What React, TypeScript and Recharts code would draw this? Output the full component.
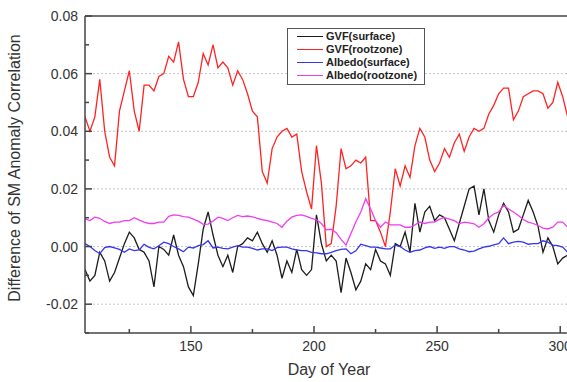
import { LineChart, Line, XAxis, YAxis, ReferenceLine, Legend } from "recharts";

// Day of year (every second day)
const DAYS = [
  107, 109, 111, 113, 115, 117, 119, 121, 123, 125,
  127, 129, 131, 133, 135, 137, 139, 141, 143, 145,
  147, 149, 151, 153, 155, 157, 159, 161, 163, 165,
  167, 169, 171, 173, 175, 177, 179, 181, 183, 185,
  187, 189, 191, 193, 195, 197, 199, 201, 203, 205,
  207, 209, 211, 213, 215, 217, 219, 221, 223, 225,
  227, 229, 231, 233, 235, 237, 239, 241, 243, 245,
  247, 249, 251, 253, 255, 257, 259, 261, 263, 265,
  267, 269, 271, 273, 275, 277, 279, 281, 283, 285,
  287, 289, 291, 293, 295, 297, 299, 301, 303,
];

const GVF_SURFACE = [
  -0.008, -0.012, -0.010, -0.002, -0.005, -0.012, -0.009, -0.004, 0.001, 0.005,
  0.003, -0.001, -0.002, -0.005, -0.014, 0.000, -0.001, -0.003, 0.004, -0.003,
  -0.007, -0.014, -0.017, -0.006, 0.006, 0.012, 0.004, -0.003, -0.007, -0.003,
  -0.009, 0.000, 0.001, 0.003, 0.002, 0.005, 0.001, -0.002, 0.002, -0.003,
  -0.011, -0.005, -0.009, -0.001, -0.008, -0.010, -0.008, 0.011, 0.001, -0.005,
  -0.003, -0.005, -0.016, -0.004, -0.009, -0.015, -0.012, -0.006, -0.008, -0.001,
  -0.005, -0.006, -0.010, 0.001, 0.000, 0.005, -0.002, 0.015, 0.005, 0.012,
  0.014, 0.009, 0.011, 0.010, 0.006, 0.002, 0.008, 0.014, 0.020, 0.021,
  0.011, 0.020, 0.009, 0.005, 0.011, 0.015, 0.012, 0.005, 0.006, 0.011,
  0.016, 0.012, 0.007, -0.002, 0.003, 0.000, -0.006, -0.004, -0.003,
];

const GVF_ROOTZONE = [
  0.045, 0.040, 0.045, 0.058, 0.040, 0.031, 0.028, 0.047, 0.054, 0.061,
  0.047, 0.040, 0.056, 0.056, 0.054, 0.059, 0.060, 0.066, 0.064, 0.071,
  0.058, 0.052, 0.052, 0.057, 0.067, 0.063, 0.070, 0.062, 0.064, 0.062,
  0.056, 0.061, 0.058, 0.053, 0.047, 0.045, 0.026, 0.022, 0.034, 0.038,
  0.040, 0.041, 0.038, 0.039, 0.026, 0.019, 0.013, 0.035, 0.022, 0.000,
  0.001, 0.014, 0.034, 0.027, 0.028, 0.030, 0.029, 0.031, 0.009, 0.009,
  0.005, 0.000, 0.012, 0.027, 0.021, 0.028, 0.024, 0.035, 0.041, 0.038,
  0.030, 0.026, 0.029, 0.034, 0.031, 0.036, 0.039, 0.033, 0.038, 0.041,
  0.040, 0.041, 0.046, 0.049, 0.053, 0.055, 0.055, 0.044, 0.047, 0.052,
  0.053, 0.054, 0.054, 0.053, 0.048, 0.050, 0.057, 0.052, 0.045,
];

const ALBEDO_SURFACE = [
  0.001, 0.000, -0.0014, -0.0025, -0.0004, 0.000, -0.0005, -0.001, -0.002, -0.0008,
  -0.0014, -0.0012, 0.0008, -0.0003, -0.0008, 0.0003, 0.0015, 0.001, 0.000, -0.0008,
  -0.0018, -0.0002, -0.0005, 0.0003, 0.0007, 0.002, -0.0005, -0.0002, -0.0006, -0.0008,
  -0.0002, 0.0003, -0.0002, -0.0002, -0.0006, -0.0012, -0.0008, -0.0008, -0.0014, -0.0004,
  -0.0002, -0.0002, -0.0008, -0.0012, -0.0014, -0.0014, -0.002, -0.0022, -0.0025, -0.0025,
  -0.002, -0.0014, -0.001, -0.0008, -0.0025, -0.0015, 0.0008, 0.0003, -0.0002, -0.0002,
  -0.0005, -0.0008, -0.0008, 0.0005, 0.000, -0.0012, -0.002, -0.0014, -0.0012, -0.0005,
  0.000, -0.0006, -0.0002, -0.0006, 0.000, 0.000, -0.0008, -0.0012, -0.0018, -0.0016,
  -0.0008, -0.0002, 0.0001, 0.0006, 0.001, 0.003, 0.001, 0.0015, 0.0018, 0.0015,
  0.0008, 0.001, 0.001, 0.002, 0.0015, 0.0005, 0.0003, -0.0002, -0.002,
];

const ALBEDO_ROOTZONE = [
  0.0096, 0.009, 0.0102, 0.0098, 0.0087, 0.008, 0.0085, 0.0085, 0.009, 0.009,
  0.010, 0.0092, 0.0085, 0.008, 0.008, 0.0085, 0.0085, 0.0105, 0.011, 0.0108,
  0.0104, 0.0102, 0.0095, 0.0088, 0.0077, 0.0078, 0.0088, 0.0102, 0.0098, 0.009,
  0.010, 0.0108, 0.0104, 0.0106, 0.0103, 0.0098, 0.0093, 0.009, 0.0085, 0.008,
  0.0067, 0.0088, 0.0102, 0.0108, 0.011, 0.0105, 0.0098, 0.0093, 0.008, 0.0058,
  0.006, 0.0048, 0.0025, 0.0005, 0.0045, 0.0085, 0.012, 0.0166, 0.013, 0.009,
  0.0067, 0.0085, 0.0075, 0.0075, 0.0075, 0.0067, 0.0067, 0.0075, 0.0085, 0.008,
  0.0085, 0.0085, 0.0095, 0.010, 0.0095, 0.009, 0.0079, 0.0085, 0.0082, 0.0079,
  0.0067, 0.0079, 0.010, 0.0113, 0.012, 0.0143, 0.013, 0.012, 0.0108, 0.0094,
  0.0085, 0.008, 0.0073, 0.0064, 0.0061, 0.0067, 0.0085, 0.0085, 0.0067,
];

const SERIES = [
  { key: "gvfSurface", name: "GVF(surface)", color: "#1c1c1c", values: GVF_SURFACE },
  { key: "gvfRootzone", name: "GVF(rootzone)", color: "#ff2222", values: GVF_ROOTZONE },
  { key: "albedoSurface", name: "Albedo(surface)", color: "#3535f0", values: ALBEDO_SURFACE },
  { key: "albedoRootzone", name: "Albedo(rootzone)", color: "#f03cf0", values: ALBEDO_ROOTZONE },
];

const X_TICKS = [125, 150, 175, 200, 225, 250, 275, 300];
const Y_TICKS = [-0.03, -0.02, -0.01, 0, 0.01, 0.02, 0.03, 0.04, 0.05, 0.06, 0.07, 0.08];
const GRID_VALUES = [-0.02, 0, 0.02, 0.04, 0.06];

const data = DAYS.map((day, i) => {
  const row: Record<string, number> = { day };
  SERIES.forEach((s) => (row[s.key] = s.values[i]));
  return row;
});

const FONT = '"Liberation Sans", Arial, sans-serif';
const AXIS = "#454545";

const XTick = (props: any) => {
  const { x, y, payload } = props;
  const major = payload.value % 50 === 0;
  return (
    <g>
      <line x1={x} y1={y} x2={x} y2={y - (major ? 7 : 4)} stroke={AXIS} strokeWidth={1.5} />
      {major && (
        <text x={x} y={y + 18} textAnchor="middle" fontSize={14} fill="#333" fontFamily={FONT}>
          {payload.value}
        </text>
      )}
    </g>
  );
};

const YTick = (props: any) => {
  const { x, y, payload } = props;
  const major = Math.round(payload.value * 100) % 2 === 0;
  return (
    <g>
      <line x1={x} y1={y} x2={x + (major ? 7 : 4)} y2={y} stroke={AXIS} strokeWidth={1.5} />
      {major && (
        <text x={x - 7} y={y + 5} textAnchor="end" fontSize={14} fill="#333" fontFamily={FONT}>
          {payload.value.toFixed(2)}
        </text>
      )}
    </g>
  );
};

// legend drawn in series order (recharts sorts its payload by name)
const LegendBox = () => (
  <div
    style={{
      border: "1px solid #555",
      background: "#fff",
      padding: "1px 7px 2px 9px",
      fontFamily: FONT,
      fontSize: 11,
      fontWeight: "bold",
      lineHeight: "13px",
      color: "#222",
    }}
  >
    {SERIES.map((s) => (
      <div key={s.key} style={{ display: "flex", alignItems: "center", whiteSpace: "nowrap" }}>
        <span style={{ width: 26, height: 0, borderTop: `1.5px solid ${s.color}`, marginRight: 3 }} />
        {s.name}
      </div>
    ))}
  </div>
);

export default function App() {
  return (
    <div
      style={{
        position: "absolute",
        left: 0,
        top: 0,
        width: 567,
        height: 382,
        overflow: "hidden",
        background: "#fff",
        fontFamily: FONT,
      }}
    >
      <LineChart width={580} height={382} data={data} margin={{ top: 16, right: 5, bottom: 19, left: 0 }}>
        {GRID_VALUES.map((v) => (
          <ReferenceLine key={v} y={v} stroke="#c4c4c4" strokeDasharray="2 2" />
        ))}
        <ReferenceLine y={0.08} stroke={AXIS} strokeWidth={1.5} />
        <XAxis
          type="number"
          dataKey="day"
          domain={[107, 306]}
          ticks={X_TICKS}
          interval={0}
          allowDataOverflow
          tickLine={false}
          tickSize={0}
          tickMargin={0}
          axisLine={{ stroke: AXIS, strokeWidth: 1.5 }}
          tick={<XTick />}
          height={30}
        />
        <YAxis
          type="number"
          domain={[-0.03, 0.08]}
          ticks={Y_TICKS}
          interval={0}
          allowDataOverflow
          tickLine={false}
          tickSize={0}
          tickMargin={0}
          axisLine={{ stroke: AXIS, strokeWidth: 1.5 }}
          tick={<YTick />}
          width={85}
        />
        <Legend
          layout="horizontal"
          verticalAlign="middle"
          align="center"
          wrapperStyle={{ position: "absolute", left: 287, top: 28, width: "auto", height: "auto" }}
          content={<LegendBox />}
        />
        {SERIES.map((s) => (
          <Line
            key={s.key}
            type="linear"
            dataKey={s.key}
            name={s.name}
            stroke={s.color}
            strokeWidth={1.3}
            dot={false}
            activeDot={false}
            isAnimationActive={false}
          />
        ))}
      </LineChart>
      <div
        style={{
          position: "absolute",
          left: 15,
          top: 168,
          transform: "translate(-50%, -50%) rotate(-90deg)",
          whiteSpace: "nowrap",
          fontSize: 16,
          color: "#333",
        }}
      >
        Difference of SM Anomaly Correlation
      </div>
      <div
        style={{
          position: "absolute",
          left: 329,
          top: 370,
          transform: "translate(-50%, -50%)",
          whiteSpace: "nowrap",
          fontSize: 16,
          color: "#333",
        }}
      >
        Day of Year
      </div>
    </div>
  );
}
